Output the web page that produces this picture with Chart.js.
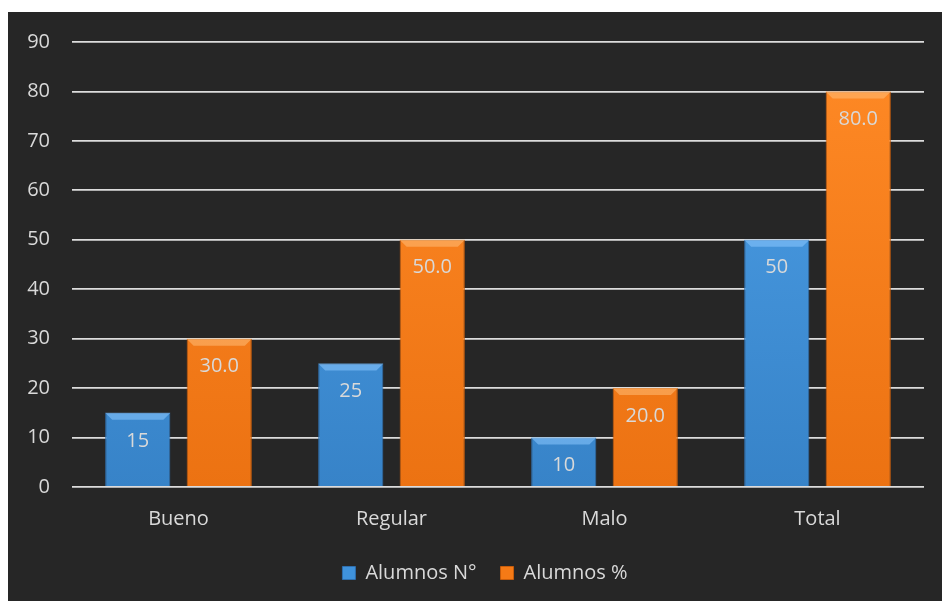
<!DOCTYPE html>
<html>
<head>
<meta charset="utf-8">
<script src="https://cdn.jsdelivr.net/npm/chart.js@4"></script>
<style>
  body { margin: 0; background: #ffffff; }
  #wrap { position: absolute; left: 8px; top: 12px; width: 934px; height: 589px; background: #262626; }
</style>
</head>
<body>
<div id="wrap"><canvas id="myChart" width="934" height="589"></canvas></div>
<script>
const ctx = document.getElementById("myChart");

// datos del grafico
const categorias = ["Bueno", "Regular", "Malo", "Total"];
const alumnosN = [15, 25, 10, 50];
const alumnosPct = [30, 50, 20, 80];
const ticksY = [0, 10, 20, 30, 40, 50, 60, 70, 80, 90];

const textColor = "#d9d9d9";
const fontFam = "'Open Sans', sans-serif";

// degradado vertical para las barras
function grad(chart, top, bottom) {
  const area = chart.chartArea;
  if (!area) return top;
  const g = chart.ctx.createLinearGradient(0, area.top, 0, area.bottom);
  g.addColorStop(0, top);
  g.addColorStop(1, bottom);
  return g;
}

// mover la leyenda un poco a la derecha
const moverLeyenda = {
  id: "moverLeyenda",
  afterLayout(chart) {
    chart.legend.left += 19;
    chart.legend.right += 19;
  },
};

// bisel claro arriba + etiquetas dentro de las barras
const etiquetas = {
  id: "etiquetas",
  afterDatasetsDraw(chart) {
    const c = chart.ctx;
    const luz = ["rgba(140,200,255,0.55)", "rgba(255,190,120,0.55)"];
    c.save();
    chart.data.datasets.forEach((ds, i) => {
      chart.getDatasetMeta(i).data.forEach((bar) => {
        const l = bar.x - bar.width / 2, r = bar.x + bar.width / 2, b = 7;
        c.fillStyle = luz[i];
        c.beginPath();
        c.moveTo(l, bar.y);
        c.lineTo(r, bar.y);
        c.lineTo(r - b, bar.y + b);
        c.lineTo(l + b, bar.y + b);
        c.closePath();
        c.fill();
      });
    });
    c.fillStyle = textColor;
    c.font = "20px " + fontFam;
    c.textAlign = "center";
    c.textBaseline = "middle";
    chart.data.datasets.forEach((ds, i) => {
      chart.getDatasetMeta(i).data.forEach((bar, j) => {
        const txt = i === 0 ? String(ds.data[j]) : ds.data[j].toFixed(1);
        c.fillText(txt, bar.x, bar.y + 28);
      });
    });
    c.restore();
  },
};

new Chart(ctx, {
  type: "bar",
  data: {
    labels: categorias,
    datasets: [
      {
        label: "Alumnos N°",
        data: alumnosN,
        backgroundColor: (c) => grad(c.chart, "#4da0e8", "#3783c8"),
        borderColor: "#2f6fae",
        borderWidth: 1,
        categoryPercentage: 0.765,
        barPercentage: 0.8,
      },
      {
        label: "Alumnos %",
        data: alumnosPct,
        backgroundColor: (c) => grad(c.chart, "#ff8a26", "#ec7212"),
        borderColor: "#c85d0c",
        borderWidth: 1,
        categoryPercentage: 0.765,
        barPercentage: 0.8,
      },
    ],
  },
  plugins: [etiquetas, moverLeyenda],
  options: {
    responsive: false,
    animation: false,
    layout: { padding: { left: 0, right: 18, top: 30, bottom: 8 } },
    plugins: {
      tooltip: { enabled: false },
      legend: {
        position: "bottom",
        labels: {
          color: textColor,
          font: { family: fontFam, size: 20 },
          boxWidth: 13,
          boxHeight: 13,
          padding: 24,
          generateLabels(chart) {
            const cols = ["#3f92dc", "#f57a16"];
            return chart.data.datasets.map((ds, i) => ({
              text: ds.label,
              fillStyle: cols[i],
              strokeStyle: i === 0 ? "#2f6fae" : "#c85d0c",
              lineWidth: 1,
              fontColor: textColor,
              datasetIndex: i,
            }));
          },
        },
      },
    },
    scales: {
      x: {
        grid: { display: false },
        border: { display: false },
        ticks: { color: textColor, font: { family: fontFam, size: 20 }, padding: 12 },
        afterFit: (s) => { s.height = 52; s.paddingLeft = 0; s.paddingRight = 0; },
      },
      y: {
        min: 0,
        max: 90,
        afterBuildTicks: (s) => { s.ticks = ticksY.map((v) => ({ value: v })); },
        grid: { color: "#dcdcdc", lineWidth: 1.8, drawTicks: false },
        border: { display: false },
        ticks: { color: textColor, font: { family: fontFam, size: 20 }, padding: 22 },
        afterFit: (s) => { s.width = 64; s.paddingTop = 0; s.paddingBottom = 0; },
      },
    },
  },
});
</script>
</body>
</html>
